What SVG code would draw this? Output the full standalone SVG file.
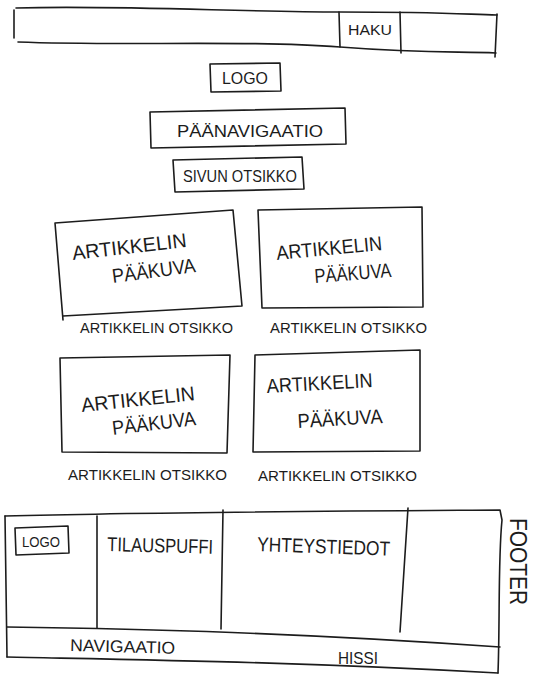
<svg xmlns="http://www.w3.org/2000/svg" width="534" height="676" viewBox="0 0 534 676">
  <style>
    .ink { fill: none; stroke: #1c1c1c; stroke-width: 1.6; stroke-linecap: round; stroke-linejoin: round; }
    .lbl { font-family: "Liberation Sans", Arial, sans-serif; fill: #1c1c1c; lengthAdjust: spacingAndGlyphs; }
    .big { font-size: 20px; }
    .mid { font-size: 17px; }
    .sm { font-size: 14px; }
  </style>
  <rect width="534" height="676" fill="#ffffff"/>

  <!-- header strip with search box -->
  <g id="top-bar">
    <path class="ink" d="M16,8 C120,5 240,12 340,12 S460,14 497,15"/>
    <path class="ink" d="M18,42 C120,46 250,40 340,47 S460,51 496,53"/>
    <path class="ink" d="M14,10 L14,38"/>
    <path class="ink" d="M497,14 L495,57"/>
    <path class="ink" d="M339,12 L340,47"/>
    <path class="ink" d="M400,12 L401,53"/>
    <text class="lbl sm" x="348" y="35" textLength="44" lengthAdjust="spacingAndGlyphs">HAKU</text>
  </g>

  <g id="logo">
    <path class="ink" d="M210,64 L280,63 L281,91 L211,92 Z"/>
    <text class="lbl mid" x="222" y="84" textLength="46" lengthAdjust="spacingAndGlyphs">LOGO</text>
  </g>

  <g id="main-nav">
    <path class="ink" d="M150,112 L345,108 L346,144 L151,148 Z"/>
    <text class="lbl mid" x="177" y="137" textLength="146" lengthAdjust="spacingAndGlyphs">PÄÄNAVIGAATIO</text>
  </g>

  <g id="page-title">
    <path class="ink" d="M173,160 L302,157 L304,189 L175,192 Z"/>
    <text class="lbl mid" x="183" y="182" textLength="114" lengthAdjust="spacingAndGlyphs">SIVUN OTSIKKO</text>
  </g>

  <!-- article cards -->
  <g id="article-1">
    <path class="ink" d="M55,223 L233,210 L242,306 L63,316 M55,223 L63,320"/>
    <text class="lbl big" x="73" y="260" textLength="115" lengthAdjust="spacingAndGlyphs" transform="rotate(-6.5 73 260)">ARTIKKELIN</text>
    <text class="lbl big" x="113" y="283" textLength="84" lengthAdjust="spacingAndGlyphs" transform="rotate(-7.5 113 283)">PÄÄKUVA</text>
    <text class="lbl sm" x="80" y="333" textLength="153" lengthAdjust="spacingAndGlyphs">ARTIKKELIN OTSIKKO</text>
  </g>

  <g id="article-2">
    <path class="ink" d="M258,210 L422,207 L423,307 L262,308 Z"/>
    <text class="lbl big" x="277" y="260" textLength="106" lengthAdjust="spacingAndGlyphs" transform="rotate(-5.4 277 260)">ARTIKKELIN</text>
    <text class="lbl big" x="315" y="283" textLength="77" lengthAdjust="spacingAndGlyphs" transform="rotate(-4.5 315 283)">PÄÄKUVA</text>
    <text class="lbl sm" x="270" y="333" textLength="157" lengthAdjust="spacingAndGlyphs">ARTIKKELIN OTSIKKO</text>
  </g>

  <g id="article-3">
    <path class="ink" d="M60,358 L230,355 L227,453 L62,452 Z"/>
    <text class="lbl big" x="82" y="412" textLength="114" lengthAdjust="spacingAndGlyphs" transform="rotate(-6 82 412)">ARTIKKELIN</text>
    <text class="lbl big" x="113" y="435" textLength="84" lengthAdjust="spacingAndGlyphs" transform="rotate(-6.8 113 435)">PÄÄKUVA</text>
    <text class="lbl sm" x="68" y="480" textLength="159" lengthAdjust="spacingAndGlyphs">ARTIKKELIN OTSIKKO</text>
  </g>

  <g id="article-4">
    <path class="ink" d="M255,355 L420,350 L420,451 L253,452 Z"/>
    <text class="lbl big" x="267" y="393" textLength="106" lengthAdjust="spacingAndGlyphs" transform="rotate(-3.2 267 393)">ARTIKKELIN</text>
    <text class="lbl big" x="298" y="428" textLength="85" lengthAdjust="spacingAndGlyphs" transform="rotate(-3.4 298 428)">PÄÄKUVA</text>
    <text class="lbl sm" x="258" y="481" textLength="159" lengthAdjust="spacingAndGlyphs">ARTIKKELIN OTSIKKO</text>
  </g>

  <!-- page footer -->
  <g id="footer">
    <path class="ink" d="M5,516 C150,512 350,511 500,510 L502,520 C498,560 500,620 498,673"/>
    <path class="ink" d="M5,516 L7,657"/>
    <path class="ink" d="M7,627 C150,629 300,633 500,647"/>
    <path class="ink" d="M7,657 C150,660 300,662 498,673"/>
    <path class="ink" d="M97,516 L97,628"/>
    <path class="ink" d="M223,510 L221,629"/>
    <path class="ink" d="M408,508 L400,632"/>
    <text class="lbl" font-size="24" x="510" y="518" textLength="87" lengthAdjust="spacingAndGlyphs" transform="rotate(90 510 518)">FOOTER</text>
  </g>

  <g id="footer-logo">
    <path class="ink" d="M15,528 L68,526 L69,553 L16,555 Z"/>
    <text class="lbl sm" x="22" y="547" textLength="38" lengthAdjust="spacingAndGlyphs">LOGO</text>
  </g>

  <g id="subscription">
    <text class="lbl big" x="107" y="551" textLength="106" lengthAdjust="spacingAndGlyphs" transform="rotate(1.5 107 551)">TILAUSPUFFI</text>
  </g>

  <g id="contact">
    <text class="lbl big" x="257" y="551" textLength="133" lengthAdjust="spacingAndGlyphs" transform="rotate(2 257 551)">YHTEYSTIEDOT</text>
  </g>

  <g id="footer-nav">
    <text class="lbl mid" x="70" y="651" textLength="105" lengthAdjust="spacingAndGlyphs" transform="rotate(1.5 70 651)">NAVIGAATIO</text>
  </g>

  <g id="back-to-top">
    <text class="lbl mid" x="338" y="664" textLength="40" lengthAdjust="spacingAndGlyphs">HISSI</text>
  </g>
</svg>
